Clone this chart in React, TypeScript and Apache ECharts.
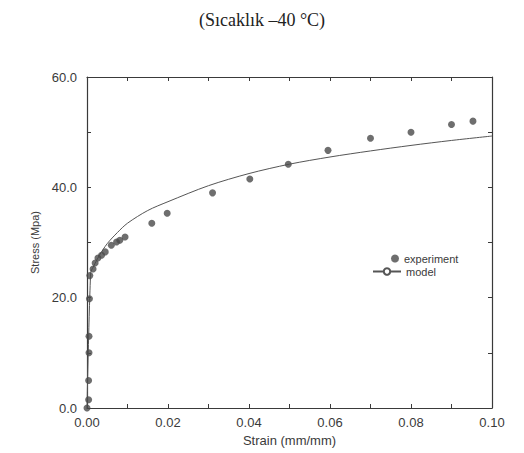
import React, { useEffect, useRef } from "react";
import * as echarts from "echarts";

const titleText = "(Sıcaklık –40 °C)";
const xAxisName = "Strain (mm/mm)";
const yAxisName = "Stress (Mpa)";
const seriesNames = ["experiment", "model"];

const expStrain = [0, 0.0004, 0.0004, 0.0005, 0.0005, 0.0006, 0.0007, 0.0015, 0.002, 0.0027, 0.0036, 0.0045, 0.006, 0.0073, 0.0081, 0.0094, 0.016, 0.0198, 0.031, 0.0402, 0.0497, 0.0595, 0.07, 0.08, 0.09, 0.0953];
const expStress = [0, 1.5, 5, 10, 13, 19.8, 24, 25.2, 26.3, 27.2, 27.7, 28.3, 29.5, 30.1, 30.4, 31, 33.5, 35.3, 39, 41.5, 44.2, 46.7, 48.9, 50, 51.4, 52];

const modelStrain = [0, 0.0009, 0.0015, 0.003, 0.005, 0.0075, 0.01, 0.015, 0.02, 0.03, 0.04, 0.05, 0.06, 0.07, 0.08, 0.09, 0.1];
const modelStress = [0, 24.5, 25.5, 27.6, 29.8, 31.8, 33.5, 35.8, 37.4, 40.3, 42.5, 44.2, 45.5, 46.6, 47.6, 48.5, 49.3];

const ink = "#3a3a3a";
const sans = "Liberation Sans";

export default function App() {
  const ref = useRef<HTMLDivElement>(null);
  useEffect(() => {
    if (!ref.current) return;
    const chart = echarts.init(ref.current, null, { renderer: "svg" });
    const axisCommon = {
      axisLine: { show: true, onZero: false, lineStyle: { color: ink, width: 1.2 } },
      axisTick: { show: true, inside: true, length: 4, lineStyle: { color: ink } },
      minorTick: { show: true, splitNumber: 2, length: 4, lineStyle: { color: ink } },
      splitLine: { show: false },
    };
    chart.setOption({
      animation: false,
      backgroundColor: "#ffffff",
      title: {
        text: titleText,
        left: "center",
        top: 6,
        textStyle: { fontFamily: "Liberation Serif", fontSize: 18, fontWeight: "normal", color: "#222" },
      },
      grid: { left: 87, top: 77, width: 405, height: 331, containLabel: false },
      legend: [
        {
          data: [seriesNames[0]],
          left: 386,
          top: 248,
          itemWidth: 8,
          itemHeight: 8,
          textStyle: { fontFamily: sans, fontSize: 11, color: ink },
        },
        {
          data: [seriesNames[1]],
          left: 367,
          top: 261,
          itemWidth: 28,
          itemHeight: 8,
          textStyle: { fontFamily: sans, fontSize: 11, color: ink },
        },
      ],
      xAxis: [
        {
          type: "value",
          min: 0,
          max: 0.1,
          interval: 0.02,
          name: xAxisName,
          nameLocation: "middle",
          nameGap: 25,
          nameTextStyle: { fontFamily: sans, fontSize: 13, color: ink },
          axisLabel: {
            margin: 8,
            fontFamily: sans,
            fontSize: 13,
            color: ink,
            formatter: (v: number) => v.toFixed(2),
          },
          ...axisCommon,
        },
        {
          type: "value",
          position: "top",
          min: 0,
          max: 0.1,
          interval: 0.02,
          axisLabel: { show: false },
          ...axisCommon,
        },
      ],
      yAxis: [
        {
          type: "value",
          min: 0,
          max: 60,
          interval: 20,
          name: yAxisName,
          nameLocation: "middle",
          nameGap: 19,
          nameTextStyle: { fontFamily: sans, fontSize: 11, color: ink },
          axisLabel: {
            margin: 10,
            fontFamily: sans,
            fontSize: 13,
            color: ink,
            formatter: (v: number) => v.toFixed(1),
          },
          ...axisCommon,
        },
        {
          type: "value",
          position: "right",
          min: 0,
          max: 60,
          interval: 20,
          axisLabel: { show: false },
          ...axisCommon,
        },
      ],
      series: [
        {
          name: seriesNames[0],
          type: "scatter",
          symbol: "circle",
          symbolSize: 7,
          itemStyle: { color: "#4a4a4a" },
          data: expStrain.map((x, i) => [x, expStress[i]]),
          z: 3,
        },
        {
          name: seriesNames[1],
          type: "line",
          showSymbol: false,
          smooth: 0.3,
          lineStyle: { color: "#555", width: 1 },
          itemStyle: { color: "#555" },
          data: modelStrain.map((x, i) => [x, modelStress[i]]),
          z: 2,
        },
      ],
    });
    return () => chart.dispose();
  }, []);
  return (
    <div
      ref={ref}
      style={{ position: "absolute", left: 0, top: 0, width: 524, height: 453 }}
    />
  );
}
